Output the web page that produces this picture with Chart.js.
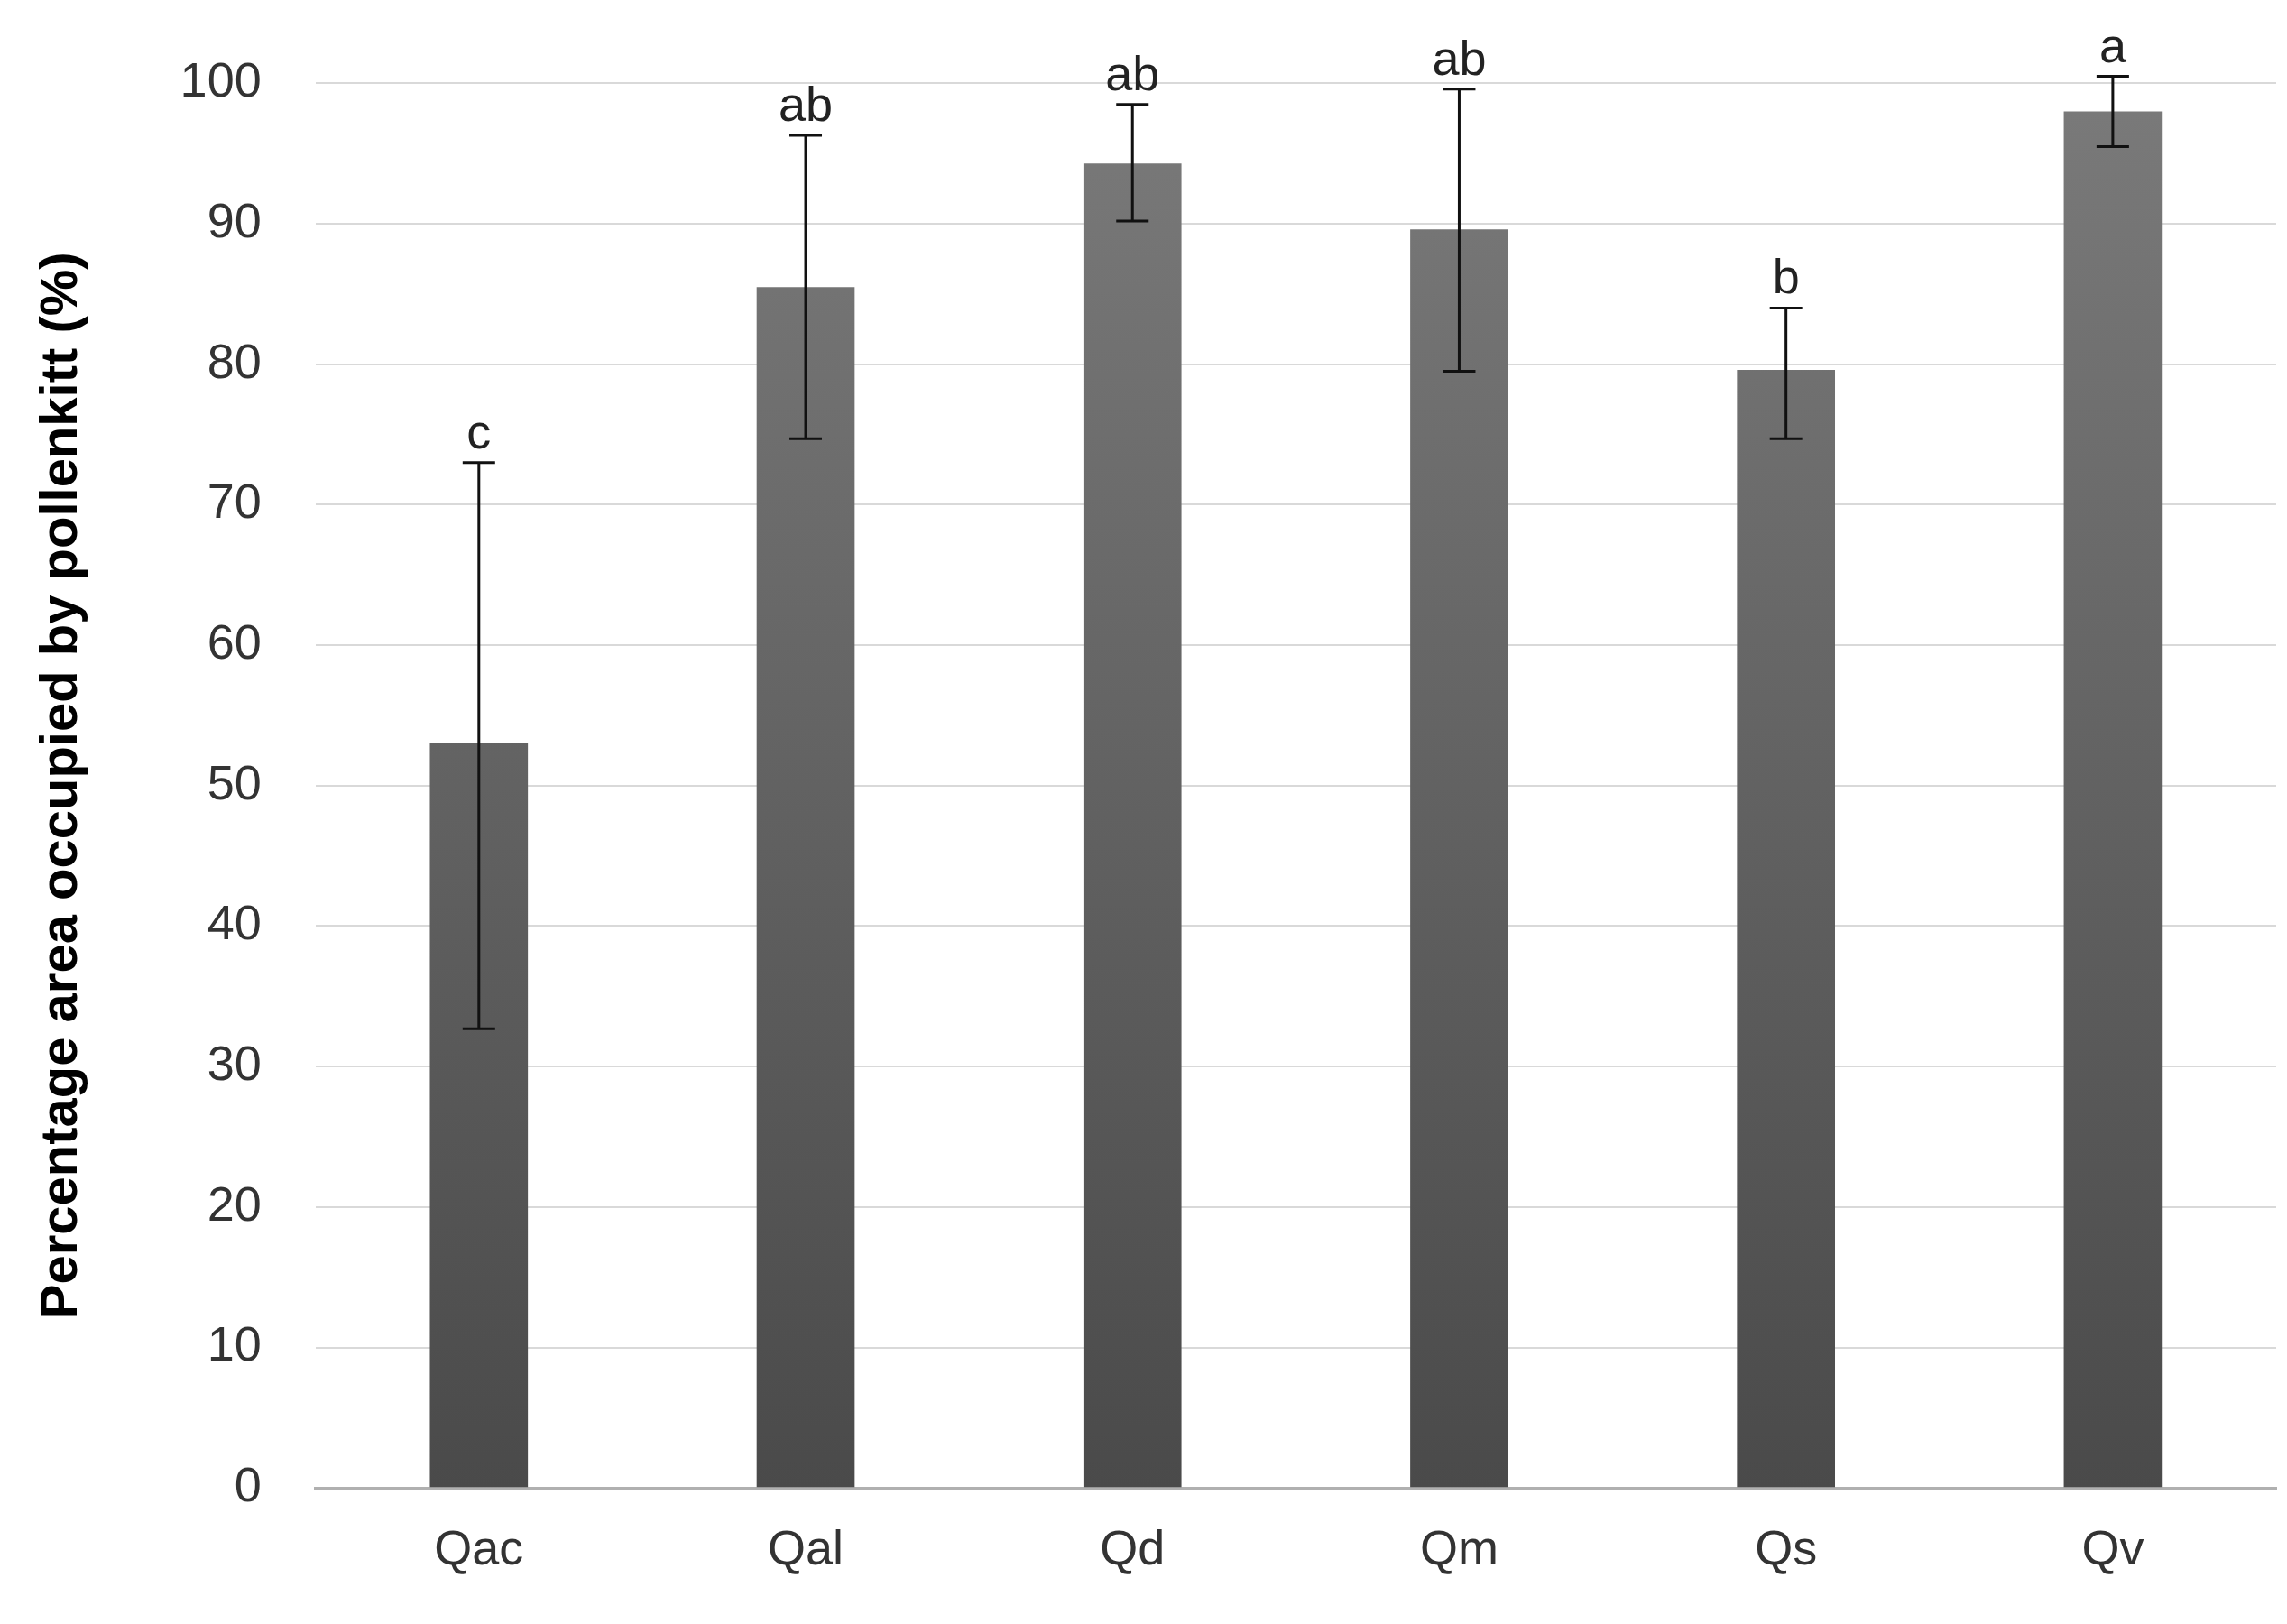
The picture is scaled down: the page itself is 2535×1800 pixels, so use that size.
<!DOCTYPE html>
<html><head><meta charset="utf-8">
<script src="https://cdn.jsdelivr.net/npm/chart.js@4"></script>
<style>html,body{margin:0;padding:0;background:#fff}#w{width:2535px;height:1800px}</style>
</head><body><div id="w"><canvas id="c"></canvas></div>
<script>
const categories=["Qac","Qal","Qd","Qm","Qs","Qv"];
const means=[53,85.5,94.3,89.6,79.6,98];
const errLow=[32.7,74.7,90.2,79.5,74.7,95.5];
const errHigh=[73,96.3,98.5,99.6,84,100.5];
const letters=["c","ab","ab","ab","b","a"];

const errPlugin={id:'err',afterDatasetsDraw(ch){
 const ctx=ch.ctx,y=ch.scales.y,meta=ch.getDatasetMeta(0);
 ctx.save();ctx.strokeStyle='#111';ctx.lineWidth=3;ctx.fillStyle='#222';
 ctx.font='54px "Liberation Sans", Arial';ctx.textAlign='center';ctx.textBaseline='bottom';
 meta.data.forEach((b,i)=>{
  const x=b.x,yl=y.getPixelForValue(errLow[i]),yh=y.getPixelForValue(errHigh[i]);
  ctx.beginPath();ctx.moveTo(x,yl);ctx.lineTo(x,yh);
  ctx.moveTo(x-18,yl);ctx.lineTo(x+18,yl);ctx.moveTo(x-18,yh);ctx.lineTo(x+18,yh);ctx.stroke();
  ctx.fillText(letters[i],x,yh-4);
 });ctx.restore();}};

new Chart(document.getElementById('c'),{type:'bar',
 data:{labels:categories,datasets:[{data:means,
  backgroundColor:(c)=>{const a=c.chart.chartArea;if(!a)return '#5a5a5a';
   const g=c.chart.ctx.createLinearGradient(0,a.top,0,a.bottom);g.addColorStop(0,'#7a7a7a');g.addColorStop(1,'#4a4a4a');return g;},
  barPercentage:0.3,categoryPercentage:1}]},
 options:{responsive:true,maintainAspectRatio:false,animation:false,
  layout:{padding:{top:80,right:12,left:30,bottom:10}},
  plugins:{legend:{display:false},tooltip:{enabled:false}},
  scales:{
   x:{grid:{display:false,drawTicks:false},border:{color:'#b0b0b0',width:3},
      ticks:{color:'#333',font:{size:54,family:'"Liberation Sans", Arial'},padding:38}},
   y:{min:0,max:100,grid:{color:'#d9d9d9',lineWidth:2,drawTicks:false},border:{display:false},
      ticks:{stepSize:10,color:'#333',font:{size:54,family:'"Liberation Sans", Arial'},padding:60},
      title:{display:true,text:'Percentage area occupied by pollenkitt (%)',color:'#000',
       font:{size:58,weight:'bold',family:'"Liberation Sans", Arial'},padding:{bottom:36}}}}},
 plugins:[errPlugin]});
</script></body></html>
